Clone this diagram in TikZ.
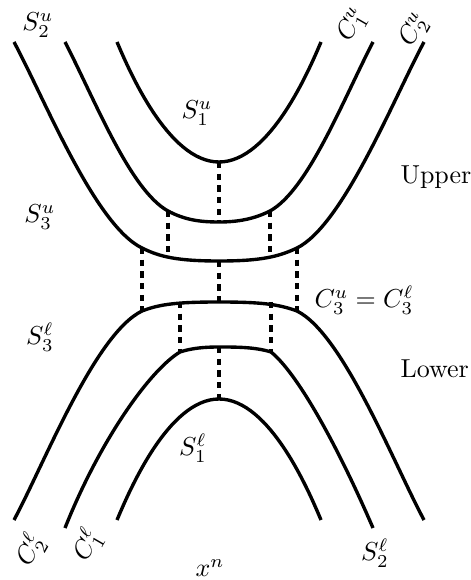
\documentclass[tikz,border=0pt]{standalone}
\begin{document}
\begin{tikzpicture}[x=0.385pt,y=-0.385pt,
  curve/.style={line width=1.3pt},
  link/.style={line width=1.3pt,dash pattern=on 2.4pt off 2.1pt},
  lab/.style={inner sep=0pt}]
\useasboundingbox (0,0) rectangle (470,580);
% upper curves
\draw[curve] (117,42) parabola bend (219,162) (321,42);
\draw[curve] (65,42) .. controls (95,100) and (130,190) .. (168,211)
  .. controls (185,220) and (200,222) .. (219,222)
  .. controls (238,222) and (254,219) .. (270,211)
  .. controls (308,190) and (343,100) .. (373,42);
\draw[curve] (14,42) .. controls (45,100) and (95,225) .. (142,248)
  .. controls (160,257) and (178,261) .. (219,261)
  .. controls (260,261) and (278,257) .. (297,248)
  .. controls (343,225) and (393,100) .. (424,42);
% lower curves
\draw[curve] (14,520) .. controls (45,462) and (95,334) .. (142,311)
  .. controls (160,304) and (178,302) .. (219,302)
  .. controls (260,302) and (278,304) .. (297,311)
  .. controls (343,334) and (393,462) .. (424,520);
\draw[curve] (65,528) .. controls (100,440) and (150,370) .. (180,352)
  .. controls (192,348) and (205,347) .. (219,347)
  .. controls (236,347) and (255,347) .. (271,352)
  .. controls (296,372) and (335,440) .. (373,528);
\draw[curve] (117,520) parabola bend (219,399) (321,520);
% dashed links
\coordinate (a1) at (219,162); \coordinate (a2) at (219,222);
\coordinate (b1) at (168,211); \coordinate (b2) at (168,257);
\coordinate (c1) at (270,211); \coordinate (c2) at (270,257);
\coordinate (d1) at (142,248); \coordinate (d2) at (142,311);
\coordinate (e1) at (219,261); \coordinate (e2) at (219,302);
\coordinate (f1) at (297,248); \coordinate (f2) at (297,311);
\coordinate (g1) at (180,302); \coordinate (g2) at (180,352);
\coordinate (h1) at (271,302); \coordinate (h2) at (271,352);
\coordinate (i1) at (219,347); \coordinate (i2) at (219,399);
\foreach \p in {a,b,c,d,e,f,g,h,i} \draw[link] (\p1) -- (\p2);
% labels
\node[lab] (s2u) at (38,25) {$S_2^u$};
\node[lab,rotate=60] (c1u) at (353,25) {$C_1^u$};
\node[lab,rotate=60] (c2u) at (415,30) {$C_2^u$};
\node[lab] (s1u) at (197,113) {$S_1^u$};
\node[lab] (s3u) at (40,217) {$S_3^u$};
\node[lab,anchor=base west] (up) at (400,184) {Upper};
\node[lab,anchor=west] (c3) at (314,300) {$C_3^u=C_3^\ell$};
\node[lab] (s3l) at (40,337) {$S_3^\ell$};
\node[lab,anchor=base west] (lo) at (400,377) {Lower};
\node[lab] (s1l) at (193,448) {$S_1^\ell$};
\node[lab,rotate=60] (c2l) at (30,550) {$C_2^\ell$};
\node[lab,rotate=60] (c1l) at (87,545) {$C_1^\ell$};
\node[lab] (xn) at (210,568) {$x^n$};
\node[lab] (s2l) at (375,553) {$S_2^\ell$};
\end{tikzpicture}
\end{document}
